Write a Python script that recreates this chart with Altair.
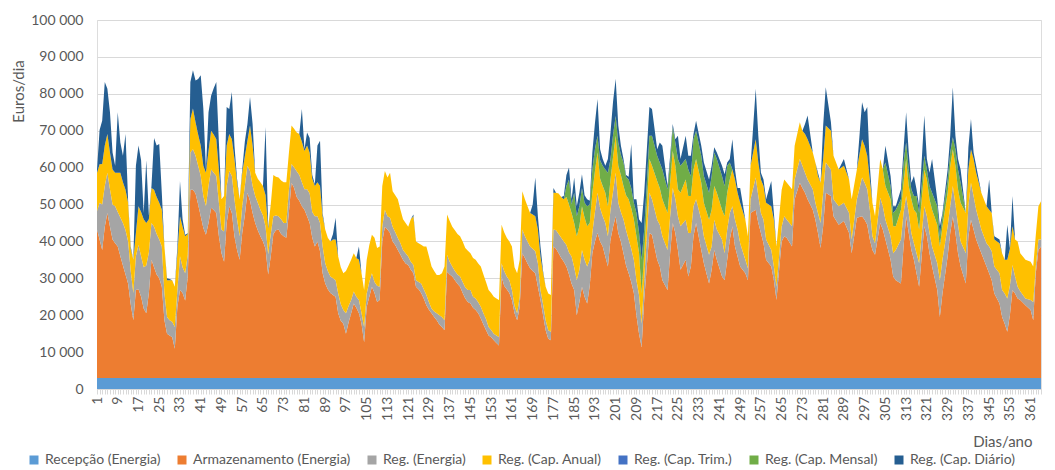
import altair as alt
import pandas as pd

# ---- data (values in thousand euros) ----
SERIES = ["Recepção (Energia)", "Armazenamento (Energia)", "Reg. (Energia)",
          "Reg. (Cap. Anual)", "Reg. (Cap. Trim.)", "Reg. (Cap. Mensal)",
          "Reg. (Cap. Diário)"]
COLORS = ["#5B9BD5", "#ED7D31", "#A5A5A5", "#FFC000", "#4472C4", "#70AD47", "#255E91"]

RECEPCAO = 3.0  # constant daily value

DAYS = list(range(1, 211)) + [
    211, 212, 214, 215, 217, 218, 219, 221, 222, 223,
    224, 225, 226, 228, 229, 230, 231, 232, 234, 235,
    237, 238, 239, 240, 242, 243, 244, 245, 246, 247,
    248, 249, 251, 252, 253, 255, 256, 257, 258, 259,
    261, 262, 263, 265, 266, 267, 269, 270, 272, 273,
    274, 275, 277, 278, 279, 280, 281, 282, 284, 285,
    287, 289, 291, 292, 294, 296, 297, 298, 299, 300,
    301, 303, 304, 305, 307, 308, 309, 311, 312, 313,
    314, 315, 316, 317, 318, 320, 321, 322, 323, 325,
    326, 327, 329, 330, 331, 332, 333, 334, 336, 337,
    338, 339, 340, 342, 344, 345, 346, 347, 349, 350,
    351, 352, 353, 354, 355, 356, 357, 359, 361, 362,
    363, 364, 365]

# cumulative level reached at the top of "Armazenamento (Energia)"
ARM_TOP = [
    43.2, 40.5, 37.7, 44.0, 47.7, 44.0, 40.5, 39.5, 38.6, 36.0,
    33.5, 31.0, 28.5, 23.0, 18.6, 26.8, 27.0, 25.0, 21.8, 20.5,
    26.0, 35.0, 33.0, 31.0, 30.0, 27.7, 18.6, 15.0, 14.5, 14.0,
    10.9, 22.3, 26.8, 26.0, 24.0, 30.5, 54.0, 54.0, 53.0, 50.0,
    46.8, 43.6, 41.8, 45.0, 49.1, 48.5, 47.7, 41.4, 36.8, 34.5,
    45.0, 49.5, 47.7, 41.4, 37.7, 35.0, 42.3, 47.0, 53.2, 51.0,
    47.7, 45.0, 43.0, 41.4, 40.0, 38.0, 31.0, 36.0, 42.0, 43.0,
    43.2, 42.0, 41.4, 41.0, 48.0, 55.9, 54.5, 52.0, 51.0, 49.5,
    48.6, 46.8, 45.0, 41.0, 38.6, 40.0, 37.3, 31.4, 28.6, 27.0,
    26.0, 25.5, 25.0, 20.5, 18.5, 17.7, 15.0, 18.0, 20.5, 23.2,
    22.0, 20.5, 17.7, 12.7, 22.3, 25.0, 27.7, 26.0, 23.6, 24.1,
    40.0, 44.0, 43.2, 42.3, 40.0, 39.0, 37.7, 36.4, 35.0, 34.0,
    33.6, 32.3, 31.4, 27.7, 27.0, 26.0, 24.5, 22.7, 21.5, 20.5,
    19.5, 18.6, 17.5, 16.8, 15.9, 31.8, 31.0, 30.5, 29.5, 28.5,
    27.7, 26.0, 24.5, 23.6, 23.2, 22.0, 21.4, 20.5, 19.1, 17.5,
    16.0, 14.5, 14.0, 13.2, 12.5, 11.8, 30.5, 28.0, 27.0, 26.0,
    24.1, 20.5, 18.6, 22.3, 36.8, 35.5, 34.0, 32.7, 32.0, 31.4,
    27.7, 24.1, 20.0, 15.9, 13.6, 13.2, 38.6, 38.0, 36.8, 35.5,
    34.5, 33.2, 31.0, 28.5, 26.8, 20.0, 23.6, 27.7, 25.0, 23.2,
    28.0, 36.8, 40.0, 42.3, 40.0, 38.6, 35.9, 33.2, 40.5, 44.0,
    46.8, 42.3, 40.0, 36.8, 33.5, 31.4, 29.0, 26.0, 20.0, 15.0,
    11.4, 24.1, 42.3, 41.8, 35.0, 33.2, 29.5, 26.8, 36.8, 45.0,
    42.3, 37.7, 32.3, 35.0, 30.5, 33.2, 41.4, 45.0, 37.7, 34.1,
    28.6, 32.3, 37.7, 35.0, 30.5, 29.5, 35.0, 40.5, 44.1, 38.6,
    35.9, 33.2, 31.4, 29.5, 47.7, 48.6, 45.0, 42.3, 39.5, 35.0,
    33.2, 29.5, 24.1, 40.0, 41.4, 40.9, 38.6, 51.4, 55.9, 54.5,
    53.2, 51.4, 48.6, 45.9, 42.3, 38.2, 44.1, 53.2, 52.3, 46.8,
    44.5, 45.5, 42.3, 36.8, 46.4, 46.8, 45.9, 44.5, 40.5, 37.7,
    36.4, 45.0, 43.2, 40.5, 35.0, 30.5, 29.5, 28.6, 38.6, 46.8,
    42.3, 37.7, 35.0, 31.4, 27.7, 44.1, 41.4, 36.8, 33.2, 26.8,
    19.5, 25.9, 35.9, 42.3, 46.8, 42.3, 36.8, 33.2, 28.6, 41.4,
    45.9, 43.2, 40.5, 36.8, 33.2, 31.4, 29.5, 25.9, 23.2, 19.5,
    17.7, 15.5, 20.0, 26.8, 25.9, 24.5, 24.1, 22.7, 21.4, 18.6,
    31.4, 37.7, 38.6]

# cumulative level at the top of "Reg. (Energia)"
ENE_TOP = [
    48.2, 50.5, 50.0, 55.0, 58.6, 54.1, 50.0, 49.5, 48.0, 46.5,
    45.0, 43.0, 40.0, 32.0, 26.0, 36.0, 39.0, 36.0, 33.0, 33.5,
    37.0, 45.0, 44.0, 42.0, 40.5, 38.6, 26.0, 19.5, 18.6, 18.2,
    16.8, 26.8, 36.0, 33.0, 31.4, 36.4, 64.1, 65.0, 63.2, 60.5,
    57.7, 52.3, 49.5, 55.0, 59.5, 58.6, 57.7, 50.5, 43.2, 42.7,
    55.0, 59.1, 57.7, 51.4, 46.0, 41.4, 49.5, 55.0, 60.5, 59.1,
    55.0, 52.3, 50.5, 48.6, 47.0, 44.0, 36.5, 42.0, 46.8, 47.0,
    46.8, 46.0, 45.0, 45.0, 54.0, 61.0, 60.0, 59.0, 58.0, 56.0,
    54.1, 54.1, 53.0, 48.0, 46.8, 46.8, 45.0, 38.6, 34.1, 32.0,
    30.5, 30.0, 29.5, 25.9, 23.0, 21.4, 20.5, 22.5, 24.1, 26.4,
    25.0, 24.1, 20.5, 16.8, 25.9, 29.0, 31.4, 29.0, 28.0, 27.7,
    44.0, 48.6, 46.8, 46.4, 44.0, 42.5, 40.9, 39.5, 37.7, 36.8,
    35.9, 34.5, 33.6, 29.5, 29.0, 28.6, 27.0, 25.5, 23.5, 21.8,
    21.0, 20.5, 20.0, 19.5, 18.6, 36.4, 34.5, 33.2, 32.0, 31.0,
    30.5, 29.0, 27.5, 26.8, 26.8, 25.0, 24.5, 23.5, 22.3, 20.5,
    19.0, 16.8, 16.0, 15.0, 14.5, 14.1, 34.1, 32.0, 30.5, 29.5,
    26.8, 22.5, 20.5, 25.0, 43.2, 41.4, 40.0, 38.6, 38.0, 37.3,
    34.1, 26.8, 23.0, 18.6, 15.9, 15.5, 43.2, 43.0, 42.0, 41.0,
    40.0, 39.0, 37.0, 35.9, 33.0, 29.5, 32.3, 37.7, 35.0, 33.2,
    35.0, 42.3, 48.0, 53.2, 49.0, 46.8, 45.0, 41.4, 48.6, 53.5,
    58.6, 50.5, 48.0, 46.0, 43.0, 40.5, 38.0, 35.0, 29.5, 25.5,
    17.7, 29.5, 53.2, 51.4, 45.9, 44.5, 41.4, 37.7, 46.8, 54.5,
    51.4, 46.8, 44.1, 45.9, 42.3, 42.3, 49.5, 51.4, 45.9, 41.4,
    36.4, 38.6, 45.9, 43.2, 40.5, 36.8, 43.2, 47.7, 49.5, 45.9,
    43.2, 39.5, 35.0, 32.7, 51.4, 57.3, 52.3, 47.7, 45.9, 40.5,
    37.7, 33.2, 27.7, 44.0, 46.8, 45.9, 44.1, 56.8, 62.3, 60.5,
    58.6, 56.8, 54.1, 50.5, 47.7, 45.0, 53.2, 61.4, 59.5, 51.4,
    49.5, 50.5, 47.7, 40.5, 51.4, 57.3, 55.9, 54.1, 48.6, 41.4,
    39.5, 51.8, 49.5, 45.9, 41.4, 36.8, 37.7, 40.5, 47.7, 52.3,
    47.7, 42.3, 39.5, 36.8, 34.1, 49.5, 46.8, 42.3, 38.6, 34.1,
    29.5, 35.0, 44.1, 49.5, 55.0, 50.0, 44.5, 40.0, 36.8, 49.5,
    55.9, 52.3, 48.6, 43.2, 39.5, 38.6, 37.3, 33.2, 31.4, 26.8,
    25.9, 24.5, 28.0, 33.6, 30.5, 27.7, 26.5, 24.5, 24.1, 23.6,
    33.2, 40.5, 40.5]

# cumulative level at the top of "Reg. (Cap. Anual)"
ANU_TOP = [
    58.6, 60.9, 61.0, 66.0, 69.1, 64.1, 59.5, 58.6, 58.6, 58.6,
    56.0, 54.0, 50.5, 38.0, 35.0, 42.3, 49.5, 48.0, 46.0, 45.0,
    46.0, 54.5, 54.0, 52.0, 50.5, 48.6, 38.6, 29.5, 29.5, 29.5,
    27.7, 36.8, 46.8, 44.0, 41.4, 42.0, 73.2, 76.0, 72.3, 69.0,
    66.0, 60.5, 58.6, 64.5, 70.0, 69.0, 67.7, 59.5, 51.4, 52.3,
    66.0, 69.1, 67.7, 62.3, 56.0, 51.4, 58.6, 63.0, 67.3, 71.4,
    66.0, 58.6, 57.0, 56.0, 55.0, 52.5, 43.5, 50.0, 58.0, 57.5,
    57.3, 56.5, 56.0, 56.0, 64.0, 71.4, 70.5, 69.5, 69.1, 67.0,
    64.5, 66.0, 64.0, 57.0, 55.0, 56.0, 55.0, 46.8, 43.2, 41.0,
    40.0, 40.5, 40.5, 35.9, 33.0, 31.4, 32.0, 33.5, 35.0, 36.8,
    35.5, 35.0, 31.4, 26.8, 35.0, 39.0, 41.8, 41.0, 38.2, 38.6,
    55.0, 59.1, 57.3, 58.6, 53.6, 52.5, 51.4, 48.6, 46.0, 45.0,
    44.0, 46.0, 46.8, 40.0, 39.5, 39.1, 38.6, 38.6, 36.0, 33.2,
    32.0, 30.9, 30.9, 31.4, 33.2, 47.3, 45.5, 44.0, 43.0, 42.0,
    41.4, 40.0, 38.2, 37.5, 36.8, 35.5, 35.0, 34.0, 33.2, 31.0,
    29.0, 26.8, 26.0, 25.0, 24.5, 24.1, 44.5, 42.5, 41.0, 40.0,
    38.6, 33.0, 31.4, 35.0, 53.6, 51.4, 49.5, 47.7, 47.3, 46.8,
    43.2, 35.9, 31.5, 27.7, 25.9, 25.5, 53.2, 53.2, 53.0, 52.0,
    51.4, 52.0, 50.0, 47.7, 45.0, 41.4, 44.1, 49.5, 46.5, 44.1,
    45.0, 53.2, 59.0, 64.1, 57.0, 55.0, 53.2, 49.5, 56.8, 63.0,
    68.6, 60.5, 58.0, 55.0, 52.5, 51.4, 49.0, 46.0, 41.4, 37.0,
    26.0, 36.8, 62.3, 60.5, 56.4, 54.5, 51.4, 47.7, 55.9, 64.5,
    60.5, 54.1, 53.2, 56.8, 52.3, 52.3, 59.5, 62.3, 55.9, 50.5,
    45.9, 48.6, 55.0, 53.2, 48.6, 46.8, 53.2, 56.8, 59.5, 56.8,
    53.2, 50.5, 45.9, 41.4, 60.5, 67.7, 61.4, 56.8, 55.0, 50.5,
    49.5, 45.9, 38.6, 54.0, 56.8, 55.9, 54.1, 65.9, 72.3, 70.0,
    69.1, 67.7, 64.1, 61.4, 57.7, 55.9, 62.3, 71.4, 70.0, 63.2,
    59.5, 60.5, 56.8, 51.4, 59.5, 67.7, 65.9, 63.2, 56.8, 50.5,
    46.8, 62.3, 59.5, 55.0, 51.4, 44.1, 44.1, 48.6, 55.9, 62.3,
    55.0, 51.4, 48.6, 47.7, 43.2, 59.5, 56.8, 51.4, 48.6, 44.5,
    38.6, 44.1, 53.2, 60.5, 65.0, 60.5, 54.1, 50.5, 47.7, 59.5,
    65.0, 62.3, 58.6, 53.2, 49.5, 48.6, 47.7, 40.5, 39.5, 36.8,
    35.0, 35.0, 38.0, 44.1, 40.5, 40.0, 36.8, 35.0, 34.5, 33.2,
    41.8, 49.5, 50.9]

# cumulative level at the top of "Reg. (Cap. Mensal)" (None = no monthly band)
MEN_TOP = (
    [None] * 181
    + [55.0, 56.8, 50.0, 53.2, 46.8, 49.5, 54.5, 50.5, 49.5]
    + [50.0, 59.5, 65.0, 68.6, 62.0, 60.5, 59.5, 58.6, 62.3, 69.0]
    + [74.0, 66.8, 63.5, 61.4, 57.5, 56.8, 54.5, 50.5, 47.7, 42.5]
    + [35.0, 43.2, 68.6, 68.6, 63.2, 61.4, 59.5, 54.1, 61.4, 70.9]
    + [66.8, 62.3, 60.5, 62.3, 59.5, 57.7, 67.7, 70.0, 63.2, 57.7]
    + [53.2, 57.7, 64.1, 62.3, 57.7, 55.0, 60.5, 61.4, None, None]
    + [None] * 40
    + [None, None, None, 61.4, 55.0, 47.7, 48.6, 51.4, 61.4, 66.8]
    + [59.5, 54.1, 52.3, 52.3, 47.7, 63.2, 59.5, 55.0, 53.2, 49.5]
    + [41.4, 46.8, 56.8, 64.1, 68.2, 65.0, 59.5, 55.9, None, None]
    + [None] * 23)

# cumulative level at the top of "Reg. (Cap. Diário)" (None = no daily band)
N = None
DIA_TOP = [
    59.5, 70.2, 72.7, 83.2, 81.4, 75.0, 64.1, 60.5, 75.0, 66.8,
    63.2, 69.1, 51.0, 38.6, N, 60.5, 66.0, 62.0, 47.7, 62.0,
    47.0, 55.0, 68.0, 66.0, 66.4, 53.0, N, 30.0, 29.8, N,
    N, 38.6, 56.4, 46.0, 41.8, 42.2, 83.2, 86.4, 83.6, 84.0,
    85.0, 76.0, 59.5, 75.0, 79.5, 81.5, 83.2, 66.8, N, N,
    76.4, 75.9, 80.5, 65.9, 57.0, N, 59.5, 67.0, 71.8, 79.1,
    71.8, N, N, N, N, 71.0, 44.0, N, N, N,
    N, N, N, N, N, N, N, N, N, 75.9,
    65.0, 69.5, 68.0, 58.0, 55.5, 66.0, 67.3, 47.7, N, N,
    N, 42.0, 46.4, N, N, N, N, N, N, N,
    N, 38.6, N, N, N, N, N, N, N, N,
    N, N, N, N, N, N, N, N, N, N,
    N, N, 47.3, N, N, N, N, N, N, N,
    N, N, N, N, N, N, N, N, N, N,
    N, N, N, N, N, N, N, N, N, N,
    N, N, N, N, N, N, N, N, N, N,
    N, N, N, N, N, N, N, N, 50.0, 57.3,
    46.8, 38.6, 32.0, N, N, N, 54.5, N, N, N,
    52.3, 58.0, 60.0, 51.4, 57.3, 49.5, 53.2, 58.2, 52.5, 51.4,
    51.0, 64.1, 72.0, 78.6, 65.0, 62.3, 60.5, 62.3, 69.5, 78.0,
    84.1, 71.4, 66.0, 62.3, 58.0, 57.5, 66.4, 51.4, 51.4, 46.0,
    45.0, 53.2, 76.4, 75.9, 65.0, 66.8, 65.9, 55.0, 63.2, 71.8,
    67.7, 68.6, 62.3, 68.6, 63.2, 63.2, 69.1, 72.7, 65.9, 61.4,
    56.8, 60.5, 65.5, 64.1, 60.5, 58.2, 61.4, 62.3, 67.7, 59.5,
    54.5, 54.5, N, N, N, 81.4, 68.6, 58.6, 56.8, 51.4,
    56.4, 47.7, N, N, N, N, N, N, N, N,
    71.8, 74.1, N, N, 58.6, N, 71.4, 81.8, 72.3, N,
    N, 62.3, N, N, N, 77.7, 75.0, 76.4, 60.5, N,
    N, N, N, 65.9, 57.7, 49.5, 49.5, 54.1, 65.0, 75.0,
    64.1, 55.9, 57.7, 54.1, 49.5, 74.1, 62.3, 58.6, 62.3, 51.4,
    44.1, 47.7, 59.5, 68.6, 81.8, 68.6, 62.3, 59.5, N, 65.5,
    73.2, 64.1, 60.5, N, N, 56.8, N, 41.4, 40.5, N,
    N, 44.5, N, 52.3, N, N, N, N, N, N,
    N, N, N]

n = len(DAYS)
assert all(len(a) == n for a in (ARM_TOP, ENE_TOP, ANU_TOP, MEN_TOP, DIA_TOP)), \
    [len(a) for a in (DAYS, ARM_TOP, ENE_TOP, ANU_TOP, MEN_TOP, DIA_TOP)]

rows = []
for i, d in enumerate(DAYS):
    o, g, y = ARM_TOP[i], ENE_TOP[i], ANU_TOP[i]
    m = MEN_TOP[i] if MEN_TOP[i] is not None else y
    m = max(m, y)
    t = DIA_TOP[i] if DIA_TOP[i] is not None else m
    t = max(t, m)
    vals = [RECEPCAO, o - RECEPCAO, g - o, y - g, 0.0, m - y, t - m]
    for k, (name, v) in enumerate(zip(SERIES, vals)):
        rows.append({"dia": d, "serie": name, "ordem": k,
                     "valor": round(max(v, 0.0) * 1000, 1)})
df = pd.DataFrame(rows)

FONT = "Lato"
GREY_TXT = "#595959"
GRID = "#D9D9D9"

x_axis = alt.Axis(
    values=list(range(1, 366)),
    labelExpr="(datum.value - 1) % 8 == 0 ? '' + datum.value : ''",
    labelAngle=-90, labelOverlap=False, labelFlush=False, labelBound=False,
    labelFont=FONT, labelFontSize=14, labelColor=GREY_TXT, labelPadding=2,
    tickSize=5, tickColor=GRID, domainColor=GRID, grid=False,
    title="Dias/ano", titleFont=FONT, titleFontSize=15, titleFontWeight="normal",
    titleColor=GREY_TXT, titleX=935, titleY=52, titleAlign="right",
    titleBaseline="middle", titleAngle=0,
)
y_axis = alt.Axis(
    values=list(range(0, 100001, 10000)),
    labelExpr="replace(format(datum.value, ','), regexp(',', 'g'), ' ')",
    labelFont=FONT, labelFontSize=14, labelColor=GREY_TXT, labelPadding=14,
    ticks=False, domain=False, grid=True, gridColor=GRID, gridWidth=1,
    title="Euros/dia", titleFont=FONT, titleFontSize=15, titleFontWeight="normal",
    titleColor=GREY_TXT, titleX=-79, titleY=71, titleAlign="center",
    titleBaseline="middle", titleAngle=-90,
)

chart = alt.Chart(df).mark_area(interpolate="linear").encode(
    x=alt.X("dia:Q", scale=alt.Scale(domain=[1, 365], nice=False, zero=False),
            axis=x_axis),
    y=alt.Y("valor:Q", stack="zero",
            scale=alt.Scale(domain=[0, 100000], nice=False), axis=y_axis),
    color=alt.Color("serie:N", sort=SERIES,
                    scale=alt.Scale(domain=SERIES, range=COLORS),
                    legend=alt.Legend(
                        title=None, orient="none", legendX=-70, legendY=433,
                        direction="horizontal", columns=7, columnPadding=14,
                        symbolType="square", symbolSize=81, symbolStrokeWidth=0,
                        labelFont=FONT, labelFontSize=14, labelColor=GREY_TXT,
                        labelOffset=4, labelLimit=400)),
    order=alt.Order("ordem:Q", sort="ascending"),
).properties(
    width=944, height=369,
    padding={"left": 89, "top": 12, "right": 5, "bottom": 79},
    autosize=alt.AutoSizeParams(type="none"),
).configure_view(stroke=None).configure(background="white")

chart.save("out.html", embed_options={"renderer": "svg", "actions": False})
